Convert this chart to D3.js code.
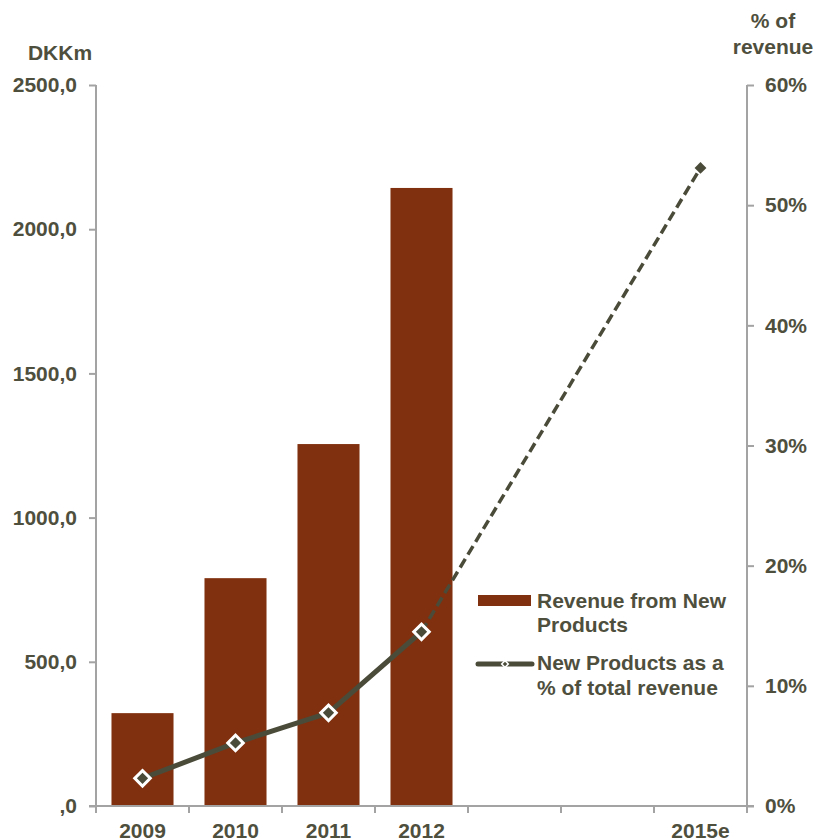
<!DOCTYPE html>
<html>
<head>
<meta charset="utf-8">
<script src="https://cdn.jsdelivr.net/npm/d3@7/dist/d3.min.js"></script>
<style>
  html, body { margin: 0; padding: 0; background: #ffffff; }
  svg { display: block; }
  text { font-family: "Liberation Sans", Arial, sans-serif; font-weight: bold; fill: #4F4F3E; }
</style>
</head>
<body>
<svg id="chart" width="817" height="840"></svg>
<script>
// Categories along the x axis (2013 and 2014 are unlabelled slots)
const years = ["2009", "2010", "2011", "2012", "2013", "2014", "2015e"];
const yearLabels = ["2009", "2010", "2011", "2012", "", "", "2015e"];

// Revenue from new products, DKKm
const revenueYears = ["2009", "2010", "2011", "2012"];
const revenueValues = [322, 790, 1255, 2143];

// New products as a share of total revenue (%)
const shareYears = ["2009", "2010", "2011", "2012", "2015e"];
const shareValues = [2.3, 5.25, 7.75, 14.5, 53.1];

// Axis ticks
const leftTicks = [0, 500, 1000, 1500, 2000, 2500];
const rightTicks = [0, 10, 20, 30, 40, 50, 60];

const barColor = "#80300E";
const lineColor = "#4B4B3A";
const axisColor = "#A3A3A3";

const svg = d3.select("#chart");
const plotLeft = 96, plotRight = 747, plotTop = 85, plotBottom = 806;

const x = d3.scaleBand().domain(years).range([plotLeft, plotRight]).paddingInner(0.333).paddingOuter(0.1665);
const xEdge = d3.scaleBand().domain(years).range([plotLeft, plotRight]);
const yL = d3.scaleLinear().domain([0, 2500]).range([plotBottom, plotTop]);
const yR = d3.scaleLinear().domain([0, 60]).range([plotBottom, plotTop]);

// Bars
svg.append("g").selectAll("rect")
  .data(revenueYears.map((yr, i) => ({ yr, v: revenueValues[i] })))
  .join("rect")
  .attr("x", d => x(d.yr))
  .attr("y", d => yL(d.v))
  .attr("width", x.bandwidth())
  .attr("height", d => yL(0) - yL(d.v))
  .attr("fill", barColor);

// Left axis
const fmtLeft = v => v === 0 ? ",0" : d3.format(".1f")(v).replace(".", ",");
const gL = svg.append("g").attr("transform", `translate(${plotLeft},0)`)
  .call(d3.axisLeft(yL).tickValues(leftTicks).tickSize(7).tickPadding(12).tickFormat(fmtLeft));
// Right axis
const gR = svg.append("g").attr("transform", `translate(${plotRight},0)`)
  .call(d3.axisRight(yR).tickValues(rightTicks).tickSize(7).tickPadding(11).tickFormat(d => d + "%"));
// Bottom axis: tick marks at category boundaries
const gB = svg.append("g").attr("transform", `translate(0,${plotBottom})`)
  .call(d3.axisBottom(x).tickValues([]).tickSize(0).tickSizeOuter(0));
gB.selectAll(".boundary")
  .data(years.concat(["end"]))
  .join("line")
  .attr("x1", (d, i) => i < years.length ? xEdge(d) : plotRight)
  .attr("x2", (d, i) => i < years.length ? xEdge(d) : plotRight)
  .attr("y1", 0).attr("y2", 7)
  .attr("stroke", axisColor).attr("stroke-width", 2);

[gL, gR, gB].forEach(g => {
  g.select(".domain").attr("stroke", axisColor).attr("stroke-width", 2);
  g.selectAll(".tick line").attr("stroke", axisColor).attr("stroke-width", 2);
  g.selectAll("text").attr("font-size", 21).attr("fill", "#4F4F3E")
    .attr("font-family", "Liberation Sans, Arial, sans-serif").attr("font-weight", "bold");
});
gL.select(".domain").attr("d", `M0,${plotTop}V${plotBottom}`);
gR.select(".domain").attr("d", `M0,${plotTop}V${plotBottom}`);
gB.select(".domain").attr("d", `M${plotLeft - 7},0H${plotRight + 7}`);

// Category labels
svg.append("g").selectAll("text")
  .data(years)
  .join("text")
  .attr("x", d => x(d) + x.bandwidth() / 2)
  .attr("y", 838)
  .attr("text-anchor", "middle")
  .attr("font-size", 21)
  .text((d, i) => yearLabels[i]);

// Axis titles
svg.append("text").attr("x", 60).attr("y", 60).attr("text-anchor", "middle").attr("font-size", 21).text("DKKm");
svg.append("text").attr("x", 773).attr("y", 28).attr("text-anchor", "middle").attr("font-size", 21).text("% of");
svg.append("text").attr("x", 773).attr("y", 54).attr("text-anchor", "middle").attr("font-size", 21).text("revenue");

// Share line: solid for actuals, dashed towards the estimate
const pts = shareYears.map((yr, i) => [x(yr) + x.bandwidth() / 2, yR(shareValues[i])]);
const line = d3.line();
svg.append("path").attr("d", line(pts.slice(3)))
  .attr("fill", "none").attr("stroke", lineColor).attr("stroke-width", 3.5)
  .attr("stroke-dasharray", "10,5");
svg.append("path").attr("d", line(pts.slice(0, 4)))
  .attr("fill", "none").attr("stroke", lineColor).attr("stroke-width", 5)
  .attr("stroke-linejoin", "round");

// Markers
const diamond = d3.symbol().type(d3.symbolSquare).size(120);
svg.append("g").selectAll("path")
  .data(pts.slice(0, 4))
  .join("path")
  .attr("d", diamond())
  .attr("transform", d => `translate(${d[0]},${d[1]}) rotate(45)`)
  .attr("fill", lineColor).attr("stroke", "#ffffff").attr("stroke-width", 3);
svg.append("path")
  .attr("d", d3.symbol().type(d3.symbolSquare).size(70)())
  .attr("transform", `translate(${pts[4][0]},${pts[4][1]}) rotate(45)`)
  .attr("fill", lineColor);

// Legend
const lg = svg.append("g");
lg.append("rect").attr("x", 478).attr("y", 595).attr("width", 53).attr("height", 11).attr("fill", barColor);
lg.append("text").attr("x", 537).attr("y", 608).attr("font-size", 21).text("Revenue from New");
lg.append("text").attr("x", 537).attr("y", 632).attr("font-size", 21).text("Products");
lg.append("line").attr("x1", 478).attr("x2", 532).attr("y1", 664).attr("y2", 664)
  .attr("stroke", lineColor).attr("stroke-width", 5).attr("stroke-linecap", "round");
lg.append("path").attr("d", d3.symbol().type(d3.symbolSquare).size(22)())
  .attr("transform", "translate(505,664) rotate(45)")
  .attr("fill", lineColor).attr("stroke", "#ffffff").attr("stroke-width", 1.5);
lg.append("text").attr("x", 537).attr("y", 670).attr("font-size", 21).text("New Products as a");
lg.append("text").attr("x", 537).attr("y", 695).attr("font-size", 21).text("% of total revenue");
</script>
</body>
</html>
